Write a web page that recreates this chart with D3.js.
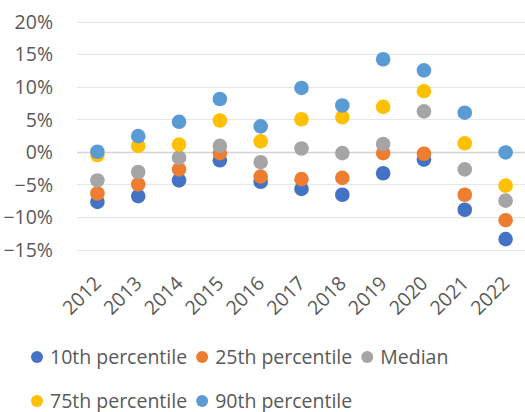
<!DOCTYPE html>
<html>
<head>
<meta charset="utf-8">
<script src="https://cdn.jsdelivr.net/npm/d3@7"></script>
<style>
  body { margin: 0; background: #fff; }
  text { font-family: "Open Sans", "Noto Sans", sans-serif; fill: #595959; }
</style>
</head>
<body>
<div id="chart"></div>
<script>
const years = ['2012', '2013', '2014', '2015', '2016', '2017', '2018', '2019', '2020', '2021', '2022'];
const yTicks = [-0.15, -0.10, -0.05, 0, 0.05, 0.10, 0.15, 0.20];

const p10 = [-0.077, -0.068, -0.044, -0.013, -0.046, -0.057, -0.066, -0.033, -0.012, -0.089, -0.134];
const p25 = [-0.064, -0.050, -0.027, -0.002, -0.038, -0.042, -0.040, -0.002, -0.003, -0.066, -0.105];
const median = [-0.044, -0.031, -0.009, 0.009, -0.016, 0.005, -0.002, 0.012, 0.062, -0.027, -0.075];
const p75 = [-0.005, 0.009, 0.011, 0.048, 0.016, 0.050, 0.053, 0.069, 0.093, 0.013, -0.052];
const p90 = [0.000, 0.024, 0.046, 0.081, 0.039, 0.098, 0.071, 0.142, 0.125, 0.060, -0.001];

const series = [
	{ name: '10th percentile', values: p10, color: '#4472C4' },
	{ name: '25th percentile', values: p25, color: '#ED7D31' },
	{ name: 'Median', values: median, color: '#A5A5A5' },
	{ name: '75th percentile', values: p75, color: '#FFC000' },
	{ name: '90th percentile', values: p90, color: '#5B9BD5' }
];

const width = 525;
const height = 412;
const plot = { left: 77, right: 526, top: 21.5, bottom: 249.5 };
const fontSize = 19.5;

const svg = d3.select('#chart')
	.append('svg')
	.attr('width', width)
	.attr('height', height);

const xScale = d3.scaleBand()
	.domain(years)
	.range([plot.left, plot.right]);

const yScale = d3.scaleLinear()
	.domain([-0.15, 0.20])
	.range([plot.bottom, plot.top]);

// gridlines
svg.append('g')
	.selectAll('line')
	.data(yTicks)
	.join('line')
	.attr('x1', plot.left)
	.attr('x2', plot.right)
	.attr('y1', d => Math.round(yScale(d)) + 0.5)
	.attr('y2', d => Math.round(yScale(d)) + 0.5)
	.attr('stroke', d => d === 0 ? '#d4d4d4' : '#e6e6e6')
	.attr('stroke-width', d => d === 0 ? 1.5 : 1.2);

// y axis labels
const yAxis = svg.append('g')
	.attr('transform', `translate(${plot.left - 24},0)`)
	.call(d3.axisLeft(yScale).tickValues(yTicks).tickFormat(d3.format('.0%')).tickSize(0).tickPadding(0));
yAxis.select('.domain').remove();
yAxis.selectAll('text')
	.attr('font-size', fontSize)
	.attr('dy', '0.35em')
	.style('font-family', '"Open Sans", sans-serif')
	.attr('fill', '#595959');

// x axis labels (rotated)
const xAxis = svg.append('g')
	.attr('transform', `translate(0,${plot.bottom})`)
	.call(d3.axisBottom(xScale).tickSize(0).tickPadding(0));
xAxis.select('.domain').remove();
xAxis.selectAll('text')
	.attr('font-size', fontSize)
	.attr('text-anchor', 'end')
	.attr('dy', 0)
	.attr('y', 0)
	.attr('transform', 'translate(5,35) rotate(-45)')
	.style('font-family', '"Open Sans", sans-serif')
	.attr('fill', '#595959');

// points
series.forEach(s => {
	svg.append('g')
		.selectAll('circle')
		.data(s.values)
		.join('circle')
		.attr('cx', (d, i) => xScale(years[i]) + xScale.bandwidth() / 2)
		.attr('cy', d => yScale(d))
		.attr('r', 7.3)
		.attr('fill', s.color);
});

// legend
const legendRows = [[0, 1, 2], [3, 4]];
const legendY = [357, 401];
legendRows.forEach((row, r) => {
	let x = 37;
	row.forEach(idx => {
		const s = series[idx];
		const g = svg.append('g').attr('transform', `translate(${x},${legendY[r]})`);
		g.append('circle').attr('r', 6).attr('fill', s.color);
		const t = g.append('text')
			.attr('x', 13)
			.attr('dy', '0.35em')
			.attr('font-size', fontSize)
			.text(s.name);
		x += 13 + t.node().getComputedTextLength() + 15;
	});
});
</script>
</body>
</html>
